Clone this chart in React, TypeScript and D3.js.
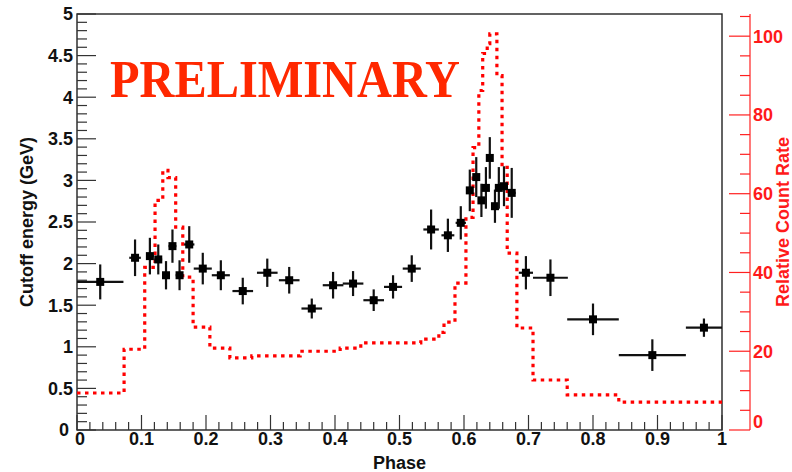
import React from "react";
import * as d3 from "d3";

// Phase-resolved cutoff energy (points) and pulse profile (dotted histogram)
const phase = [0.036, 0.09, 0.113, 0.126, 0.138, 0.148, 0.159, 0.174, 0.195, 0.223, 0.257, 0.295, 0.329, 0.364, 0.397, 0.428, 0.46, 0.49, 0.519, 0.549, 0.575, 0.595, 0.609, 0.619, 0.627, 0.634, 0.64, 0.648, 0.654, 0.662, 0.674, 0.696, 0.734, 0.8, 0.892, 0.972];
const phaseErr = [0.036, 0.009, 0.006, 0.006, 0.006, 0.006, 0.006, 0.008, 0.014, 0.014, 0.016, 0.016, 0.016, 0.016, 0.016, 0.016, 0.016, 0.014, 0.014, 0.012, 0.01, 0.008, 0.005, 0.004, 0.004, 0.004, 0.004, 0.004, 0.004, 0.004, 0.006, 0.011, 0.027, 0.04, 0.052, 0.028];
const cutoff = [1.78, 2.07, 2.09, 2.05, 1.86, 2.21, 1.86, 2.23, 1.94, 1.86, 1.67, 1.89, 1.8, 1.46, 1.74, 1.76, 1.56, 1.72, 1.94, 2.41, 2.34, 2.49, 2.88, 3.04, 2.76, 2.91, 3.27, 2.69, 2.91, 2.93, 2.85, 1.89, 1.83, 1.33, 0.9, 1.23];
const cutoffErr = [0.21, 0.22, 0.22, 0.18, 0.17, 0.2, 0.18, 0.22, 0.19, 0.18, 0.16, 0.17, 0.16, 0.12, 0.16, 0.15, 0.13, 0.14, 0.16, 0.24, 0.2, 0.2, 0.25, 0.24, 0.2, 0.25, 0.25, 0.2, 0.25, 0.24, 0.3, 0.2, 0.22, 0.19, 0.19, 0.11];

const binEdges = [0, 0.073, 0.105, 0.121, 0.133, 0.141, 0.153, 0.164, 0.18, 0.206, 0.237, 0.271, 0.346, 0.408, 0.44, 0.533, 0.561, 0.569, 0.586, 0.603, 0.614, 0.623, 0.629, 0.636, 0.64, 0.651, 0.659, 0.667, 0.682, 0.707, 0.76, 0.84, 1.0];
const countRate = [9.4, 20.5, 41.3, 58.3, 65.9, 64.1, 51.5, 38.8, 26.1, 20.8, 18.3, 18.8, 20.0, 20.8, 22.1, 23.1, 24.8, 27.4, 37.3, 54.0, 71.7, 86.2, 95.6, 98.1, 100.6, 90.0, 66.7, 44.9, 25.9, 12.7, 8.9, 7.1];

const energyLabels = [0, 0.5, 1, 1.5, 2, 2.5, 3, 3.5, 4, 4.5, 5];
const phaseLabels = [0, 0.1, 0.2, 0.3, 0.4, 0.5, 0.6, 0.7, 0.8, 0.9, 1];
const rateLabels = [0, 20, 40, 60, 80, 100];

const W = 792;
const H = 472;
const FONT = "'Liberation Sans', Arial, Helvetica, sans-serif";

export default function App() {
  const x = d3.scaleLinear().domain([0, 1]).range([77, 722]);
  const y = d3.scaleLinear().domain([0, 5]).range([430, 14]);
  const rateMax = (d3.max(countRate) as number) * 1.05;
  const yR = d3.scaleLinear().domain([0, rateMax]).range([430, 14]);

  const stepPts: [number, number][] = countRate.map((v, i) => [binEdges[i], v]);
  stepPts.push([binEdges[binEdges.length - 1], countRate[countRate.length - 1]]);
  const histPath = d3
    .line<[number, number]>()
    .x((d) => x(d[0]))
    .y((d) => yR(d[1]))
    .curve(d3.curveStepAfter)(stepPts) as string;

  const xMinor = d3.range(0, 1.0001, 0.02);
  const yMinor = d3.range(0, 5.0001, 0.1);
  const rMinor = d3.range(0, rateMax, 5);

  const fmt = (v: number) => String(+v.toFixed(2));

  return (
    <svg
      width={W}
      height={H}
      style={{ position: "absolute", left: 0, top: 0, background: "#fff" }}
      fontFamily={FONT}
    >
      <rect x={0} y={0} width={W} height={H} fill="#fff" />

      {/* frame */}
      <rect x={x(0)} y={y(5)} width={x(1) - x(0)} height={y(0) - y(5)} fill="none" stroke="#222" strokeWidth={1.4} />

      {/* x axis ticks */}
      {xMinor.map((t, i) => {
        const major = i % 5 === 0;
        return (
          <line key={"xt" + i} x1={x(t)} x2={x(t)} y1={y(0)} y2={y(0) - (major ? 15 : 8)} stroke="#333" strokeWidth={1.2} />
        );
      })}
      {phaseLabels.map((t) => (
        <text key={"xl" + t} x={x(t) + (t === 0 ? 3 : 0)} y={445} textAnchor="middle" fontSize={18} fontWeight="bold" fill="#111">
          {fmt(t)}
        </text>
      ))}
      <text x={x(0.5)} y={469} textAnchor="middle" fontSize={18} fontWeight="bold" fill="#111">
        Phase
      </text>

      {/* left axis ticks */}
      {yMinor.map((t, i) => {
        const major = i % 5 === 0;
        return (
          <line key={"yt" + i} x1={x(0)} x2={x(0) + (major ? 19 : 10)} y1={y(t)} y2={y(t)} stroke="#333" strokeWidth={1.2} />
        );
      })}
      {energyLabels.map((t) => (
        <text key={"yl" + t} x={73 - (t === 0 ? 4 : 0)} y={y(t)} dy="0.36em" textAnchor="end" fontSize={18} fontWeight="bold" fill="#111">
          {fmt(t)}
        </text>
      ))}
      <text transform={`translate(33,${(y(0) + y(5)) / 2}) rotate(-90)`} textAnchor="middle" fontSize={18} fontWeight="bold" fill="#111">
        Cutoff energy (GeV)
      </text>

      {/* right axis: relative count rate */}
      <line x1={750} x2={750} y1={yR(rateMax)} y2={yR(0)} stroke="#ff2020" strokeWidth={1.2} />
      {rMinor.map((t, i) => {
        const major = i % 4 === 0;
        return (
          <line key={"rt" + i} x1={750 - (major ? 21 : 10)} x2={750} y1={yR(t)} y2={yR(t)} stroke="#ff2020" strokeWidth={1.2} />
        );
      })}
      {rateLabels.map((t) => (
        <text key={"rl" + t} x={753} y={yR(t) - (t === 0 ? 8 : 0)} dy="0.36em" textAnchor="start" fontSize={18} fontWeight="bold" fill="#ff1a1a">
          {t}
        </text>
      ))}
      <text transform={`translate(789,${(y(0) + y(5)) / 2}) rotate(-90)`} textAnchor="middle" fontSize={18} fontWeight="bold" fill="#ff1a1a">
        Relative Count Rate
      </text>

      {/* pulse profile */}
      <path d={histPath} fill="none" stroke="#ff0000" strokeWidth={3.2} strokeDasharray="3.5 4.5" />

      {/* cutoff energy points with error bars */}
      {phase.map((p, i) => (
        <g key={"pt" + i}>
          <line x1={x(p - phaseErr[i])} x2={x(p + phaseErr[i])} y1={y(cutoff[i])} y2={y(cutoff[i])} stroke="#111" strokeWidth={2.2} />
          <line x1={x(p)} x2={x(p)} y1={y(cutoff[i] - cutoffErr[i])} y2={y(cutoff[i] + cutoffErr[i])} stroke="#111" strokeWidth={2.2} />
          <rect x={x(p) - 4} y={y(cutoff[i]) - 4} width={8} height={8} fill="#000" />
        </g>
      ))}

      <text
        x={110}
        y={97}
        fontFamily="'Liberation Serif', 'DejaVu Serif', serif"
        fontWeight="bold"
        fontSize={53}
        fill="#ff2800"
        textLength={350}
        lengthAdjust="spacingAndGlyphs"
      >
        PRELIMINARY
      </text>
    </svg>
  );
}
